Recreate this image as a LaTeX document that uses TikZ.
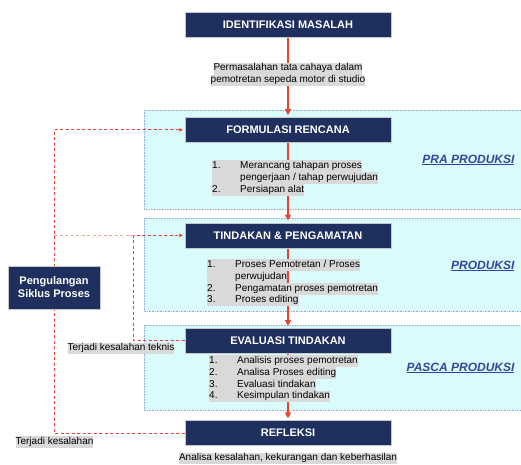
\documentclass[tikz,border=0pt]{standalone}
\usepackage{fontspec}
\setmainfont{Liberation Sans}
\usetikzlibrary{arrows.meta,positioning,backgrounds}
\definecolor{stagenavy}{RGB}{31,48,94}
\definecolor{panelcyan}{RGB}{218,251,252}
\definecolor{paneledge}{RGB}{150,172,214}
\definecolor{flowred}{RGB}{234,67,45}
\definecolor{notegray}{RGB}{217,217,217}
\definecolor{phaseblue}{RGB}{46,72,155}
\newcommand{\hl}[1]{{\setlength{\fboxsep}{0pt}\colorbox{notegray}{\strut #1}}}
\newcommand{\itm}[2]{\hl{\makebox[28pt][l]{#1}#2}}

\begin{document}
\begin{tikzpicture}[x=1pt, y=-1pt,
  stage/.style={draw=gray!45, fill=stagenavy, text=white, font=\fontsize{11}{13}\selectfont\bfseries,
    minimum width=206pt, minimum height=25pt, inner sep=0pt},
  note/.style={inner sep=0pt, font=\fontsize{10}{11.8}\selectfont},
  phase/.style={anchor=east, text=phaseblue, font=\fontsize{12}{14}\selectfont\bfseries\itshape},
  panel/.style={fill=panelcyan, draw=paneledge, densely dotted, line width=0.6pt},
  flow/.style={draw=flowred, line width=1.3pt, -{Triangle[length=6pt,width=6pt]}, shorten >=2pt},
  loopline/.style={draw=flowred, line width=0.9pt, dash pattern=on 3pt off 2.5pt}]
  \useasboundingbox (0,0) rectangle (521,464);

  % stages of the cycle
  \node[stage] (ident) at (288,24.5) {IDENTIFIKASI MASALAH};
  \node[stage, below=80pt of ident] (formul) {FORMULASI RENCANA};
  \node[stage, below=80pt of formul] (tindak) {TINDAKAN \& PENGAMATAN};
  \node[stage, below=80pt of tindak] (evalu) {EVALUASI TINDAKAN};
  \node[stage, below=67pt of evalu] (refl) {REFLEKSI};

  \node[stage, minimum width=92pt, minimum height=43pt, align=center,
    font=\fontsize{11}{13}\selectfont\bfseries] (ulang) at (54,287.5) {Pengulangan\\Siklus Proses};

  % notes and lists
  \node[note, align=center] (intro) at (288,74.5)
    {\hl{Permasalahan tata cahaya dalam}\\\hl{pemotretan sepeda motor di studio}};
  \node[note, anchor=north west, align=left] (planlist) at (212,160)
    {\itm{1.}{Merancang tahapan proses}\\
     \hl{\hspace*{28pt}pengerjaan / tahap perwujudan}\\
     \itm{2.}{Persiapan alat}};
  \node[note, anchor=north west, align=left] (actlist) at (207,259)
    {\itm{1.}{Proses Pemotretan / Proses}\\
     \hl{\hspace*{28pt}perwujudan}\\
     \itm{2.}{Pengamatan proses pemotretan}\\
     \itm{3.}{Proses editing}};
  \node[note, anchor=north west, align=left] (evallist) at (209,355)
    {\itm{1.}{Analisis proses pemotretan}\\
     \itm{2.}{Analisa Proses editing}\\
     \itm{3.}{Evaluasi tindakan}\\
     \itm{4.}{Kesimpulan tindakan}};
  \node[note] (hasil) at (288,458.5) {\hl{Analisa kesalahan, kekurangan dan keberhasilan}};
  \node[note] (teknis) at (121,348.5) {\hl{Terjadi kesalahan teknis}};
  \node[note] (salah) at (54.5,442) {\hl{Terjadi kesalahan}};

  % phase names
  \node[phase] (pra) at (518,160) {\underline{PRA PRODUKSI}};
  \node[phase] (prod) at (518,266) {\underline{PRODUKSI}};
  \node[phase] (pasca) at (518,368) {\underline{PASCA PRODUKSI}};

  \begin{scope}[on background layer]
    \draw[panel] (144,110) rectangle (530,209);
    \draw[panel] (144,218) rectangle (530,311);
    \draw[panel] (144,325) rectangle (530,410);

    \draw[flow] (ident) -- (formul);
    \draw[flow] (formul) -- (tindak);
    \draw[flow] (tindak) -- (evalu);
    \draw[flow] (evalu) -- (refl);

    % repeat loops
    \coordinate[left=51pt of evalu.west] (tekx);
    \draw[loopline, -{Triangle[length=3.5pt,width=3.5pt]}, shorten >=2pt]
      (refl.west) -| (ulang.center) |- (formul.west);
    \draw[loopline, -{Triangle[length=3.5pt,width=3.5pt]}, shorten >=2pt]
      (evalu.west) -- (tekx) |- (tindak.west);
    \draw[loopline, draw=flowred!50] (tindak.west -| ulang.center) -- (tindak.west -| tekx);
  \end{scope}
\end{tikzpicture}
\end{document}
